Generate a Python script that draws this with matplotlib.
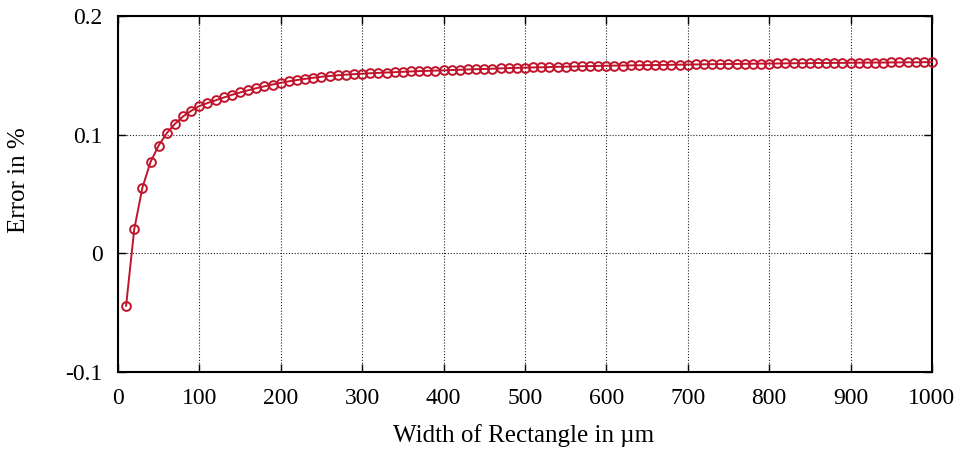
import numpy as np
import matplotlib
matplotlib.use("Agg")
import matplotlib.pyplot as plt

plt.rcParams['font.family'] = ['Liberation Serif', 'DejaVu Serif']

# width of rectangle in um
width = list(range(10, 1001, 10))

# error in %
error = [
    -0.0440, 0.0203, 0.0553, 0.0769, 0.0908, 0.1012, 0.1090, 0.1153, 0.1200, 0.1240,
    0.1265, 0.1288, 0.1312, 0.1334, 0.1354, 0.1373, 0.1390, 0.1406, 0.1421, 0.1435,
    0.1448, 0.1459, 0.1469, 0.1478, 0.1486, 0.1493, 0.1499, 0.1504, 0.1508, 0.1512,
    0.1516, 0.1519, 0.1522, 0.1525, 0.1528, 0.1531, 0.1534, 0.1536, 0.1538, 0.1540,
    0.1543, 0.1545, 0.1548, 0.1550, 0.1552, 0.1554, 0.1557, 0.1559, 0.1561, 0.1563,
    0.1565, 0.1566, 0.1568, 0.1570, 0.1571, 0.1573, 0.1575, 0.1576, 0.1578, 0.1579,
    0.1580, 0.1581, 0.1582, 0.1583, 0.1584, 0.1585, 0.1586, 0.1587, 0.1588, 0.1589,
    0.1590, 0.1591, 0.1592, 0.1593, 0.1594, 0.1594, 0.1595, 0.1596, 0.1597, 0.1597,
    0.1598, 0.1599, 0.1600, 0.1600, 0.1601, 0.1602, 0.1602, 0.1603, 0.1603, 0.1604,
    0.1605, 0.1605, 0.1606, 0.1606, 0.1607, 0.1607, 0.1608, 0.1608, 0.1609, 0.1609,
]

xticks = list(range(0, 1001, 100))
yticks = [-0.1, 0, 0.1, 0.2]
ytick_labels = ['-0.1', '0', '0.1', '0.2']

fig = plt.figure(figsize=(9.59, 4.5), dpi=100)
ax = fig.add_axes([0.1230, 0.1727, 0.8488, 0.7924])

ax.plot(width, error, color='#c0142c', lw=1.4, marker='o', markersize=6.3,
        markerfacecolor='none', markeredgewidth=1.4, zorder=3, clip_on=False)

ax.set_xlim(0, 1000)
ax.set_ylim(-0.1, 0.2)
ax.set_xticks(xticks)
ax.set_xticklabels([str(t) for t in xticks])
ax.set_yticks(yticks)
ax.set_yticklabels(ytick_labels)

ax.grid(True, color='#222222', linestyle=(0, (1, 1.6)), lw=0.8)
ax.tick_params(direction='in', length=6, width=1, top=True, right=True,
               labelsize=17, pad=11)
for s in ax.spines.values():
    s.set_linewidth(1.5)

ax.set_xlabel('Width of Rectangle in µm', fontsize=18)
ax.set_ylabel('Error in %', fontsize=18)
ax.xaxis.set_label_coords(0.498, -0.176)
ax.yaxis.set_label_coords(-0.122, 0.54)
ax.xaxis.label.set_va('center')
ax.yaxis.label.set_va('center')

fig.savefig('out.png', dpi=100)
